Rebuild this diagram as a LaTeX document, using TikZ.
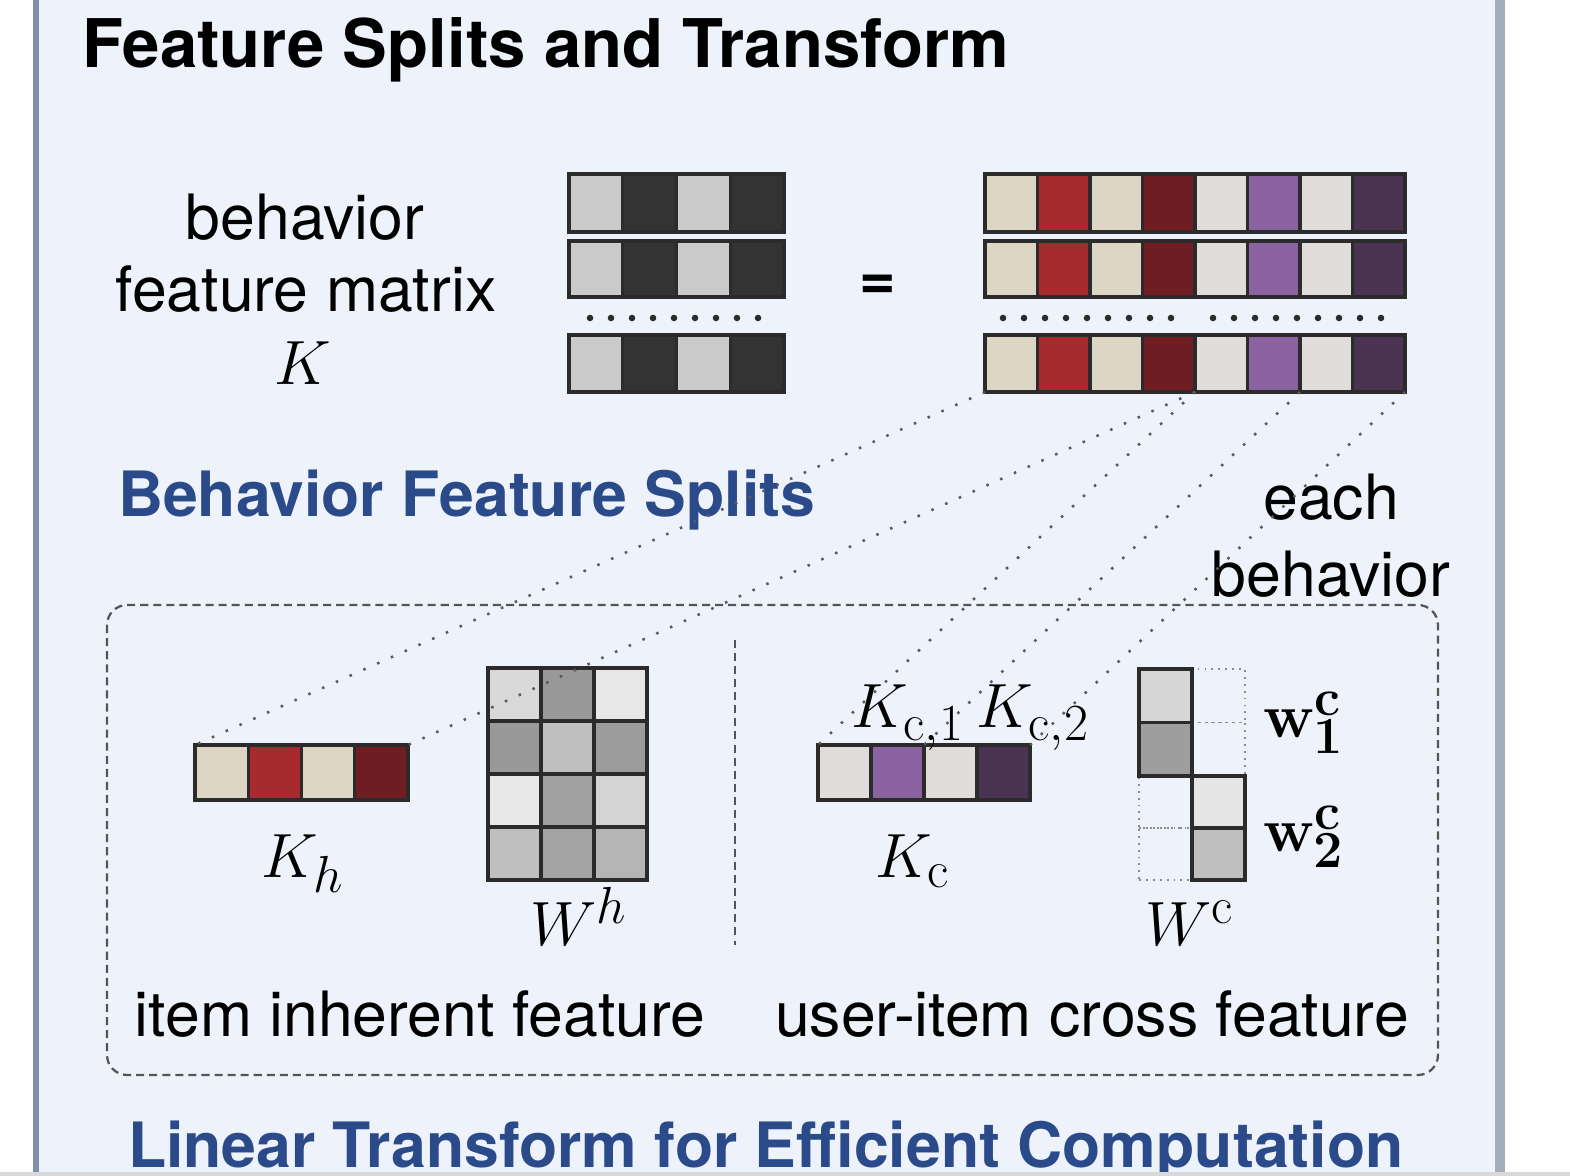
\documentclass[tikz,border=0pt]{standalone}
\usepackage[no-math]{fontspec}
\setmainfont{TeX Gyre Heros}
\usepackage{xcolor}
\usepackage{tikz}
\definecolor{panelBg}{HTML}{EEF2FA}
\definecolor{panelEdge}{HTML}{7F90AC}
\definecolor{panelEdgeR}{HTML}{A4ADBB}
\definecolor{splitBlue}{HTML}{2B4A8A}
\definecolor{cellInk}{HTML}{2B2B2B}
\definecolor{greyLt}{HTML}{CACACA}
\definecolor{greyDk}{HTML}{333333}
\definecolor{beige}{HTML}{DDD6C4}
\definecolor{redA}{HTML}{A62A2E}
\definecolor{redB}{HTML}{6F1C22}
\definecolor{paleA}{HTML}{E0DCDA}
\definecolor{purpA}{HTML}{8A62A0}
\definecolor{purpB}{HTML}{4A3452}
\definecolor{dotGrey}{HTML}{5A5A5A}
\definecolor{boxGrey}{HTML}{555555}
\def\px{0.398pt}
\newcommand{\featfont}{\fontsize{24.88}{29.6}\selectfont}
\tikzset{
  cellbox/.style ={draw=cellInk, line width=1.3pt, inner sep=0pt, outer sep=0pt},
  ghostbox/.style={draw=black!45, dotted, line width=0.75pt, inner sep=0pt, outer sep=0pt},
  zoomline/.style={draw=dotGrey, line width=1pt, dash pattern=on 1pt off 5pt},
  splitbox/.style={draw=boxGrey, line width=0.9pt, dash pattern=on 3.2pt off 2pt},
  plaintxt/.style={font=\featfont, text=black, inner sep=0pt, outer sep=0pt},
  bluehead/.style={font=\featfont\bfseries, text=splitBlue, inner sep=0pt, outer sep=0pt},
  titletxt/.style={font=\fontsize{26.7}{32}\selectfont\bfseries, text=black,
                   inner sep=0pt, outer sep=0pt},
}
% one strip of coloured cells, named #1-1, #1-2, ...
\newcommand{\cellrow}[6]{%
  % #1 name, #2/#3 top-left corner, #4 cell width, #5 cell height, #6 fills
  \foreach \cc [count=\i] in {#6}{%
    \node[cellbox, fill=\cc, anchor=north west,
          minimum width=#4*\px, minimum height=#5*\px]
      (#1-\i) at ({#2+(\i-1)*#4},#3) {};
  }%
}

\begin{document}
\begin{tikzpicture}[x=\px, y=-\px]

\useasboundingbox (0,0) rectangle (1570,1176);

% --- panel ------------------------------------------------------------------
\fill[white] (0,0) rectangle (1570,1176);
\fill[panelBg] (36,-5) rectangle (1500,1172);
\draw[panelEdge, line width=2pt] (36,-5) -- (36,1172);
\draw[panelEdgeR, line width=3.6pt] (1500,-5) -- (1500,1172);

% --- header and matrix K ----------------------------------------------------
\node[titletxt, anchor=base west] (title) at (82,68) {Feature Splits and Transform};

\node[plaintxt, anchor=base] (lblK1) at (305,240) {behavior};
\node[plaintxt, anchor=base] (lblK2) at (306,312) {feature matrix};
\node[plaintxt, anchor=base] (lblK3) at (303,385) {$K$};

\cellrow{kmat1}{569}{174}{53.75}{58}{greyLt,greyDk,greyLt,greyDk}
\cellrow{kmat2}{569}{241}{53.75}{56}{greyLt,greyDk,greyLt,greyDk}
\cellrow{kmat3}{569}{335}{53.75}{57}{greyLt,greyDk,greyLt,greyDk}
\foreach \k in {0,...,8}
  \fill[cellInk] ({590+\k*21},318) circle (1.3pt);

\node[plaintxt, font=\featfont\bfseries, anchor=center] (eqsign) at (878,287) {=};

\cellrow{mat1}{985}{174}{52.5}{58}{beige,redA,beige,redB,paleA,purpA,paleA,purpB}
\cellrow{mat2}{985}{241}{52.5}{56}{beige,redA,beige,redB,paleA,purpA,paleA,purpB}
\cellrow{mat3}{985}{335}{52.5}{57}{beige,redA,beige,redB,paleA,purpA,paleA,purpB}
\foreach \k in {0,...,8}{
  \fill[cellInk] ({1003+\k*21},318) circle (1.3pt);
  \fill[cellInk] ({1213+\k*21},318) circle (1.3pt);
}

\node[bluehead, anchor=base west] (splits) at (118,517) {Behavior Feature Splits};
\node[plaintxt, anchor=base] (each1) at (1331,520) {each};
\node[plaintxt, anchor=base] (each2) at (1331,597) {behavior};

% --- split box ----------------------------------------------------------------
\draw[splitbox, rounded corners=8pt] (107,605) rectangle (1438,1075);
\draw[splitbox] (735,640) -- (735,945);

% item inherent part
\cellrow{kh}{195}{745}{53.25}{55}{beige,redA,beige,redB}
\node[plaintxt, anchor=base] (lblKh) at (303,878) {$K_h$};

\cellrow{wh1}{488}{668}{53}{53}{black!15,black!40,black!9}
\cellrow{wh2}{488}{721}{53}{53}{black!40,black!25,black!39}
\cellrow{wh3}{488}{774}{53}{53}{black!9,black!37,black!17}
\cellrow{wh4}{488}{827}{53}{53}{black!25,black!36,black!29}
\node[plaintxt, anchor=base] (lblWh) at (579,946) {$W^h$};

\node[plaintxt, anchor=base] (itemtxt) at (420,1037) {item inherent feature};

% user-item cross part
\cellrow{kr}{818}{745}{53}{55}{paleA,purpA,paleA,purpB}
\node[plaintxt, anchor=base] (kc1) at (908,728) {$K_{\mathrm{c},1}$};
\node[plaintxt, anchor=base] (kc2) at (1033,728) {$K_{\mathrm{c},2}$};
\node[plaintxt, anchor=base] (lblKr) at (913,878) {$K_{\mathrm{c}}$};

\foreach \gx/\gy/\gh [count=\j] in {1192/669/53.5,1192/722.5/53.5,1139/776/52,1139/828/52}
  \node[ghostbox, anchor=north west, minimum width=53*\px, minimum height=\gh*\px]
    (wcg-\j) at (\gx,\gy) {};
\cellrow{wca}{1139}{669}{53}{53.5}{black!16}
\cellrow{wcb}{1139}{722.5}{53}{53.5}{black!38}
\cellrow{wcc}{1192}{776}{53}{52}{black!10}
\cellrow{wcd}{1192}{828}{53}{52}{black!25}
\node[plaintxt, anchor=base west] (w1) at (1263,738) {$\mathbf{w}^{\mathbf{c}}_{\mathbf{1}}$};
\node[plaintxt, anchor=base west] (w2) at (1263,852) {$\mathbf{w}^{\mathbf{c}}_{\mathbf{2}}$};
\node[plaintxt, anchor=base] (lblWc) at (1190,946) {$W^{\mathrm{c}}$};

\node[plaintxt, anchor=base] (crosstxt) at (1092,1037) {user-item cross feature};

% --- zoom lines ---------------------------------------------------------------
\draw[zoomline] (mat3-1.south west) -- (kh-1.north west);
\draw[zoomline] (mat3-4.south east) -- (kh-4.north east);
\draw[zoomline] (mat3-5.south west) -- (kr-1.north west);
\draw[zoomline] (mat3-6.south east) -- (kr-2.north east);
\draw[zoomline] (mat3-8.south east) -- (kr-4.north east);

% --- footer -------------------------------------------------------------------
\node[bluehead, anchor=base west] (lintxt) at (128,1168) {Linear Transform for Efficient Computation};
\fill[black!15] (0,1172) rectangle (1570,1176);

\end{tikzpicture}
\end{document}
